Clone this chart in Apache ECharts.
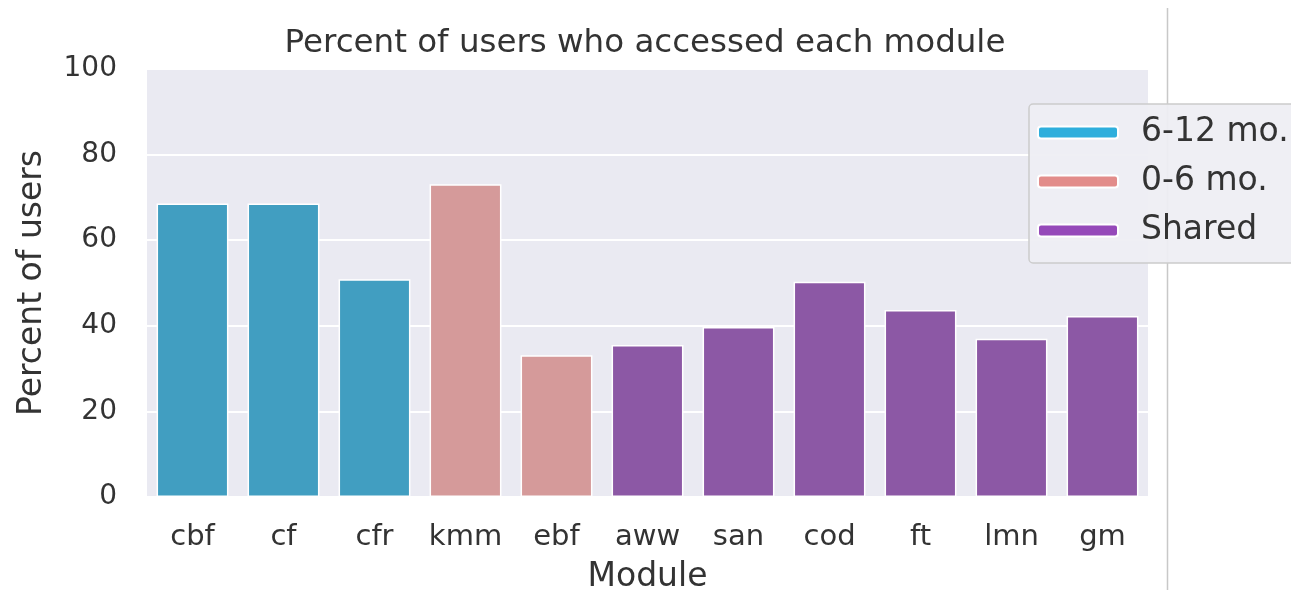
<!DOCTYPE html>
<html>
<head>
<meta charset="utf-8">
<script src="https://cdn.jsdelivr.net/npm/echarts@6/dist/echarts.min.js"></script>
<style>
  html, body { margin: 0; padding: 0; background: #fff; }
  #chart { width: 1291px; height: 590px; }
</style>
</head>
<body>
<div id="chart"></div>
<script>
// module names along the x axis
const modules = ['cbf', 'cf', 'cfr', 'kmm', 'ebf', 'aww', 'san', 'cod', 'ft', 'lmn', 'gm']
// percent of users who accessed each module
const percents = [68.6, 68.6, 50.9, 73.1, 33.1, 35.5, 39.7, 50.3, 43.7, 37.0, 42.3]
// which group each module belongs to
const groups = ['6-12 mo.', '6-12 mo.', '6-12 mo.', '0-6 mo.', '0-6 mo.', 'Shared', 'Shared', 'Shared', 'Shared', 'Shared', 'Shared']
const groupNames = ['6-12 mo.', '0-6 mo.', 'Shared']
const yTicks = [0, 20, 40, 60, 80, 100]

const barColors = { '6-12 mo.': '#419ec1', '0-6 mo.': '#d59a9a', 'Shared': '#8c58a5' }
const legendColors = { '6-12 mo.': '#2eaedc', '0-6 mo.': '#e28c8a', 'Shared': '#9549b9' }

const font = 'DejaVu Sans, sans-serif'
const textColor = '#333'

let chart = echarts.init(document.getElementById('chart'))

let series = groupNames.map(function (g) {
  return {
    name: g,
    type: 'bar',
    stack: 'all',
    barWidth: '79%',
    itemStyle: {
      color: barColors[g],
      borderColor: '#fff',
      borderWidth: 1.5
    },
    data: percents.map(function (v, i) {
      return groups[i] === g ? v : null
    })
  }
})

let option = {
  animation: false,
  textStyle: { fontFamily: font },
  title: {
    text: 'Percent of users who accessed each module',
    left: 640,
    textAlign: 'center',
    top: 22,
    textStyle: { fontFamily: font, fontSize: 32.5, fontWeight: 'normal', color: textColor }
  },
  grid: {
    left: 147,
    right: 143,
    top: 69,
    bottom: 93,
    outerBoundsMode: 'none',
    containLabel: false,
    show: true,
    backgroundColor: '#eaeaf2',
    borderWidth: 0
  },
  legend: {
    orient: 'vertical',
    left: 1029,
    top: 104,
    data: groupNames.map(function (g) {
      return { name: g, itemStyle: { color: legendColors[g] } }
    }),
    icon: 'roundRect',
    itemWidth: 80,
    itemHeight: 12,
    itemGap: 16,
    padding: [12, 14, 16, 8],
    backgroundColor: 'rgba(238,238,243,0.95)',
    borderColor: '#cccccc',
    borderWidth: 1.5,
    borderRadius: 4,
    textStyle: { fontFamily: font, fontSize: 33, color: textColor, padding: [0, 0, 0, 18] }
  },
  xAxis: {
    type: 'category',
    data: modules,
    name: 'Module',
    nameLocation: 'middle',
    nameGap: 64,
    nameTextStyle: { fontFamily: font, fontSize: 33, color: textColor },
    axisLine: { show: false },
    axisTick: { show: false },
    axisLabel: { interval: 0, fontFamily: font, fontSize: 29, color: textColor, margin: 26 },
    splitLine: { show: false }
  },
  yAxis: {
    type: 'value',
    min: yTicks[0],
    max: yTicks[yTicks.length - 1],
    interval: yTicks[1] - yTicks[0],
    name: 'Percent of users',
    nameLocation: 'middle',
    nameGap: 98,
    nameTextStyle: { fontFamily: font, fontSize: 33, color: textColor },
    axisLine: { show: false },
    axisTick: { show: false },
    axisLabel: { fontFamily: font, fontSize: 28, color: textColor, margin: 30 },
    splitLine: { lineStyle: { color: '#fff', width: 2 } }
  },
  graphic: [{
    type: 'line',
    z: -1,
    shape: { x1: 1167.5, y1: 8, x2: 1167.5, y2: 590 },
    style: { stroke: '#c8c8c8', lineWidth: 1.5 }
  }],
  series: series
}

chart.setOption(option)
</script>
</body>
</html>
